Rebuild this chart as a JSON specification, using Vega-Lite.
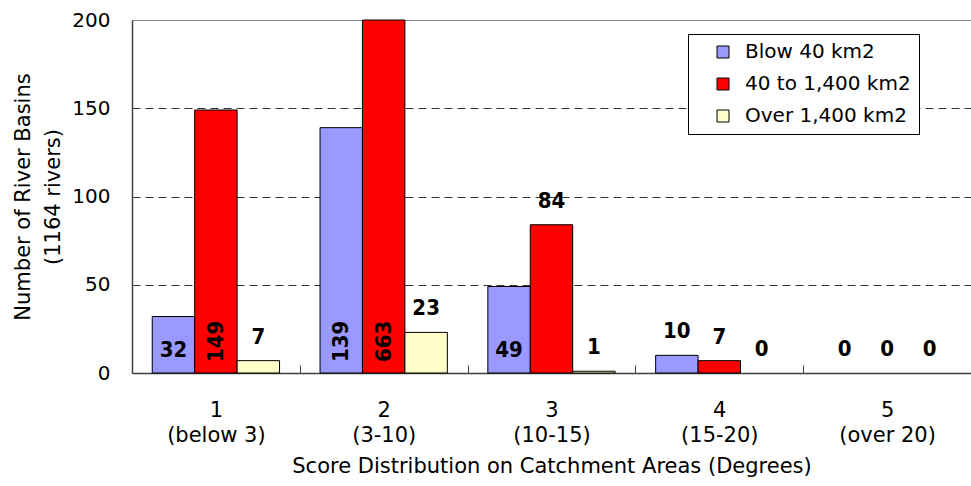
{
  "$schema": "https://vega.github.io/schema/vega-lite/v6.json",
  "width": 839,
  "height": 353,
  "autosize": {"type": "none"},
  "padding": {"left": 132, "top": 20, "right": 0, "bottom": 113},
  "background": "white",
  "config": {"view": {"stroke": null}, "font": "DejaVu Sans"},
  "data": {"values": [
    {"cat": "1|(below 3)", "series": "Blow 40 km2", "value": 32},
    {"cat": "1|(below 3)", "series": "40 to 1,400 km2", "value": 149},
    {"cat": "1|(below 3)", "series": "Over 1,400 km2", "value": 7},
    {"cat": "2|(3-10)", "series": "Blow 40 km2", "value": 139},
    {"cat": "2|(3-10)", "series": "40 to 1,400 km2", "value": 663},
    {"cat": "2|(3-10)", "series": "Over 1,400 km2", "value": 23},
    {"cat": "3|(10-15)", "series": "Blow 40 km2", "value": 49},
    {"cat": "3|(10-15)", "series": "40 to 1,400 km2", "value": 84},
    {"cat": "3|(10-15)", "series": "Over 1,400 km2", "value": 1},
    {"cat": "4|(15-20)", "series": "Blow 40 km2", "value": 10},
    {"cat": "4|(15-20)", "series": "40 to 1,400 km2", "value": 7},
    {"cat": "4|(15-20)", "series": "Over 1,400 km2", "value": 0},
    {"cat": "5|(over 20)", "series": "Blow 40 km2", "value": 0},
    {"cat": "5|(over 20)", "series": "40 to 1,400 km2", "value": 0},
    {"cat": "5|(over 20)", "series": "Over 1,400 km2", "value": 0}
  ]},
  "encoding": {
    "x": {
      "field": "cat", "type": "nominal", "sort": null,
      "scale": {"paddingInner": 0, "paddingOuter": 0},
      "title": "Score Distribution on Catchment Areas (Degrees)",
      "axis": {
        "labelExpr": "split(datum.label, '|')",
        "labelAngle": 0, "labelFontSize": 21, "labelLineHeight": 25,
        "labelColor": "black", "labelPadding": 34,
        "tickBand": "extent", "tickSize": -8, "tickColor": "#404040",
        "domainColor": "#404040", "domainWidth": 1.5,
        "titleFontSize": 21, "titleFontWeight": "normal", "titleColor": "black",
        "titlePadding": 10
      }
    },
    "xOffset": {
      "field": "series", "type": "nominal",
      "sort": ["Blow 40 km2", "40 to 1,400 km2", "Over 1,400 km2"],
      "scale": {"paddingInner": 0, "paddingOuter": 0.477}
    }
  },
  "layer": [
    {
      "transform": [{"filter": "datum.value > 0"}],
      "mark": {"type": "bar", "stroke": "black", "strokeWidth": 1},
      "encoding": {
        "y": {
          "field": "value", "type": "quantitative",
          "scale": {"domain": [0, 200], "clamp": true, "nice": false},
          "title": ["Number of River Basins", "(1164 rivers)"],
          "axis": {
            "values": [0, 50, 100, 150, 200],
            "tickSize": 0, "labelPadding": 22, "labelFontSize": 20, "labelColor": "black",
            "domainColor": "#404040", "domainWidth": 1.5,
            "gridColor": {"condition": {"test": "datum.value === 200", "value": "#888888"}, "value": "#333333"},
            "gridDash": {"condition": {"test": "datum.value === 200", "value": []}, "value": [8, 5]},
            "titleFontSize": 21, "titleFontWeight": "normal", "titleColor": "black",
            "titleLineHeight": 30, "titlePadding": 8
          }
        },
        "color": {
          "field": "series", "type": "nominal",
          "sort": ["Blow 40 km2", "40 to 1,400 km2", "Over 1,400 km2"],
          "scale": {"domain": ["Blow 40 km2", "40 to 1,400 km2", "Over 1,400 km2"], "range": ["#9999FF", "#FF0000", "#FFFFCC"]},
          "legend": {
            "orient": "none", "legendX": 556, "legendY": 14,
            "title": null, "fillColor": "white", "strokeColor": "black",
            "padding": 8, "symbolOffset": 17, "symbolType": "square", "symbolSize": 144,
            "symbolStrokeColor": "black", "symbolStrokeWidth": 1,
            "labelFontSize": 20, "labelOffset": 12, "rowPadding": 12, "labelColor": "black",
            "labelLimit": 400
          }
        }
      }
    },
    {
      "transform": [{"filter": "datum.value >= 100"}],
      "mark": {"type": "text", "angle": 270, "align": "left", "baseline": "middle", "dx": 11,
               "font": "DejaVu Sans Condensed, Liberation Sans Narrow, DejaVu Sans", "fontWeight": "bold", "fontSize": 22, "color": "black"},
      "encoding": {"y": {"datum": 0, "type": "quantitative"}, "text": {"field": "value"}}
    },
    {
      "transform": [{"filter": "datum.value >= 30 && datum.value < 100 && datum.series === 'Blow 40 km2'"}],
      "mark": {"type": "text", "baseline": "bottom", "dy": -11,
               "font": "DejaVu Sans Condensed, Liberation Sans Narrow, DejaVu Sans", "fontWeight": "bold", "fontSize": 22, "color": "black"},
      "encoding": {"y": {"datum": 0, "type": "quantitative"}, "text": {"field": "value"}}
    },
    {
      "transform": [{"filter": "datum.value < 100 && !(datum.value >= 30 && datum.series === 'Blow 40 km2')"}],
      "mark": {"type": "text", "baseline": "bottom", "dy": -12,
               "font": "DejaVu Sans Condensed, Liberation Sans Narrow, DejaVu Sans", "fontWeight": "bold", "fontSize": 22, "color": "black"},
      "encoding": {"y": {"field": "value", "type": "quantitative"}, "text": {"field": "value"}}
    }
  ]
}
